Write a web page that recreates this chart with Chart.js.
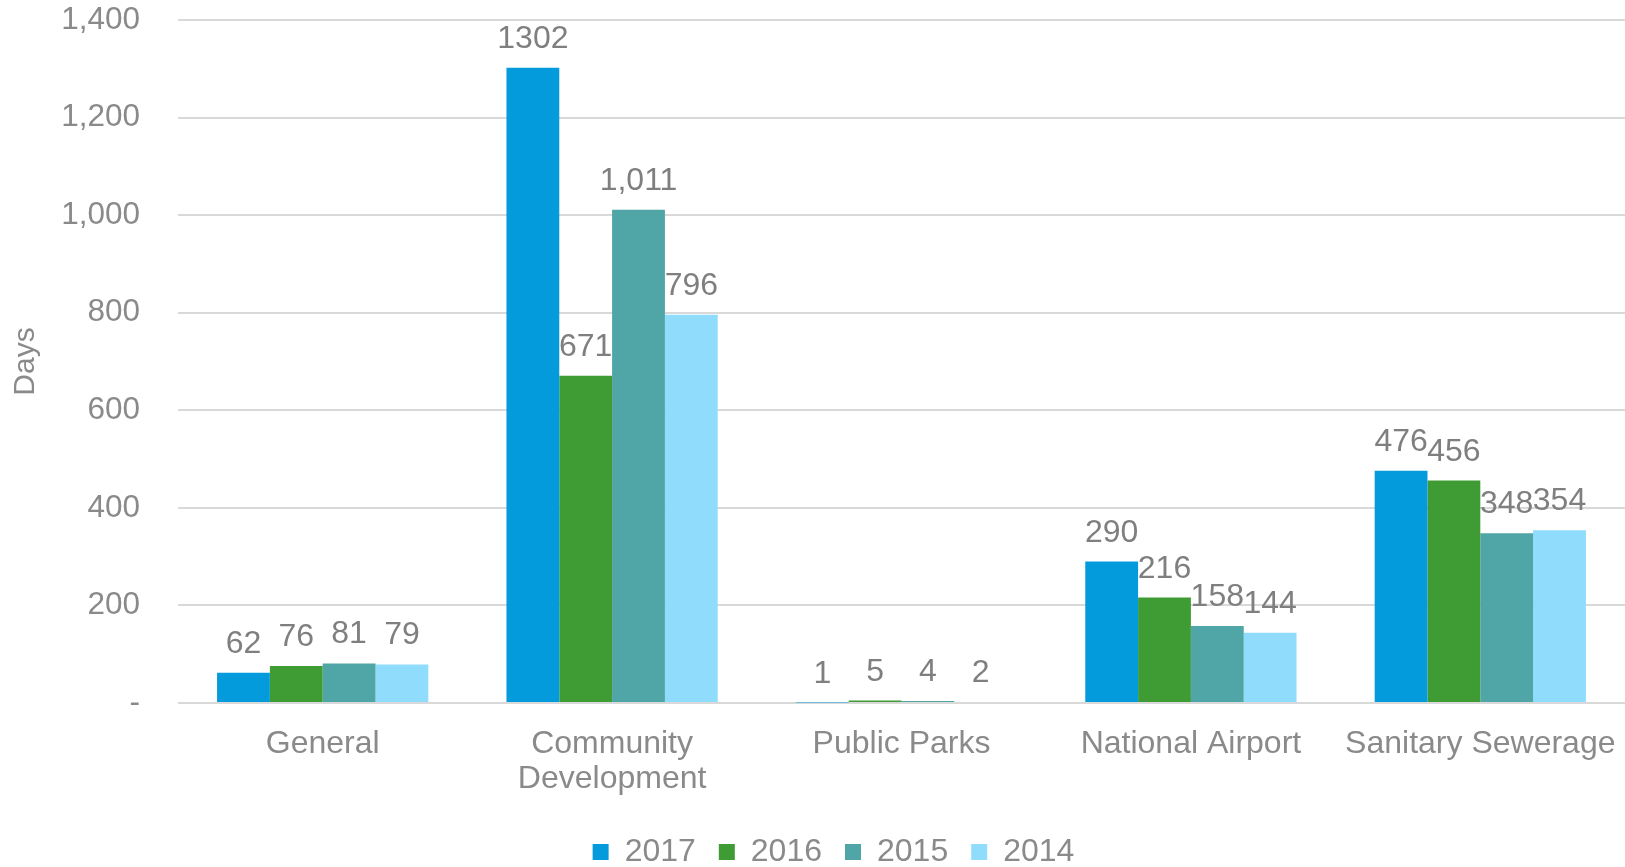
<!DOCTYPE html>
<html>
<head>
<meta charset="utf-8">
<script src="https://cdn.jsdelivr.net/npm/chart.js@4/dist/chart.umd.min.js"></script>
<style>
  html, body { margin: 0; padding: 0; background: #fff; overflow: hidden; }
  #wrap { width: 1625px; height: 867px; }
  canvas { display: block; }
</style>
</head>
<body>
<div id="wrap"><canvas id="chart"></canvas></div>
<script>
const categories = ['General', ['Community', 'Development'], 'Public Parks', 'National Airport', 'Sanitary Sewerage'];
const years = ['2017', '2016', '2015', '2014'];
const days2017 = [62, 1302, 1, 290, 476];
const days2016 = [76, 671, 5, 216, 456];
const days2015 = [81, 1011, 4, 158, 348];
const days2014 = [79, 796, 2, 144, 354];
const colors = ['#039bdc', '#3f9c35', '#50a5a6', '#8fdcfd'];

const tickColor = '#8a8a8a';
const fontFamily = '"Liberation Sans", Arial, sans-serif';

// value labels above each bar
const barLabels = {
    id: 'barLabels',
    afterDatasetsDraw(chart) {
        const {ctx} = chart;
        ctx.save();
        ctx.font = '32px ' + fontFamily;
        ctx.fillStyle = '#7f7f7f';
        ctx.textAlign = 'center';
        ctx.textBaseline = 'alphabetic';
        chart.data.datasets.forEach((ds, i) => {
            chart.getDatasetMeta(i).data.forEach((bar, j) => {
                let v = ds.data[j];
                let txt = i === 0 ? String(v) : v.toLocaleString('en-US');
                ctx.fillText(txt, bar.x, bar.y - 20);
            });
        });
        ctx.restore();
    }
};

// the original legend sits a bit right of centre
const legendShift = {
    id: 'legendShift',
    afterLayout(chart) {
        chart.legend.left += 21;
        chart.legend.right += 21;
    }
};

new Chart(document.getElementById('chart'), {
    type: 'bar',
    data: {
        labels: categories,
        datasets: [
            {label: years[0], data: days2017, backgroundColor: colors[0]},
            {label: years[1], data: days2016, backgroundColor: colors[1]},
            {label: years[2], data: days2015, backgroundColor: colors[2]},
            {label: years[3], data: days2014, backgroundColor: colors[3]}
        ]
    },
    options: {
        responsive: true,
        maintainAspectRatio: false,
        animation: false,
        datasets: {
            bar: {categoryPercentage: 0.73, barPercentage: 1.0}
        },
        layout: {padding: {top: 0, right: 0, left: 0, bottom: -11}},
        plugins: {
            tooltip: {enabled: false},
            legend: {
                position: 'bottom',
                labels: {
                    boxWidth: 16,
                    boxHeight: 16,
                    padding: 23,
                    color: tickColor,
                    font: {size: 32, family: fontFamily}
                }
            }
        },
        scales: {
            x: {
                grid: {display: false},
                border: {display: false},
                ticks: {
                    color: tickColor,
                    padding: 16,
                    maxRotation: 0,
                    autoSkip: false,
                    font: {size: 32, family: fontFamily, lineHeight: 1.09}
                },
                afterFit: s => {
                    s.height = 110;
                    s.paddingLeft = 0;
                    s.paddingRight = 0;
                }
            },
            y: {
                min: 0,
                max: 1400,
                grid: {color: '#d9d9d9', lineWidth: 2, drawTicks: true, tickLength: 38, tickColor: 'rgba(0,0,0,0)'},
                border: {display: false},
                ticks: {
                    stepSize: 200,
                    padding: 0,
                    color: tickColor,
                    font: {size: 31.5, family: fontFamily, lineHeight: 1.27},
                    callback: v => v === 0 ? '-' : v.toLocaleString('en-US')
                },
                title: {
                    display: true,
                    text: 'Days',
                    color: tickColor,
                    padding: {top: 8, bottom: 0},
                    font: {size: 30, family: fontFamily}
                },
                afterFit: s => {
                    s.width = 178;
                }
            }
        }
    },
    plugins: [barLabels, legendShift]
});
</script>
</body>
</html>
